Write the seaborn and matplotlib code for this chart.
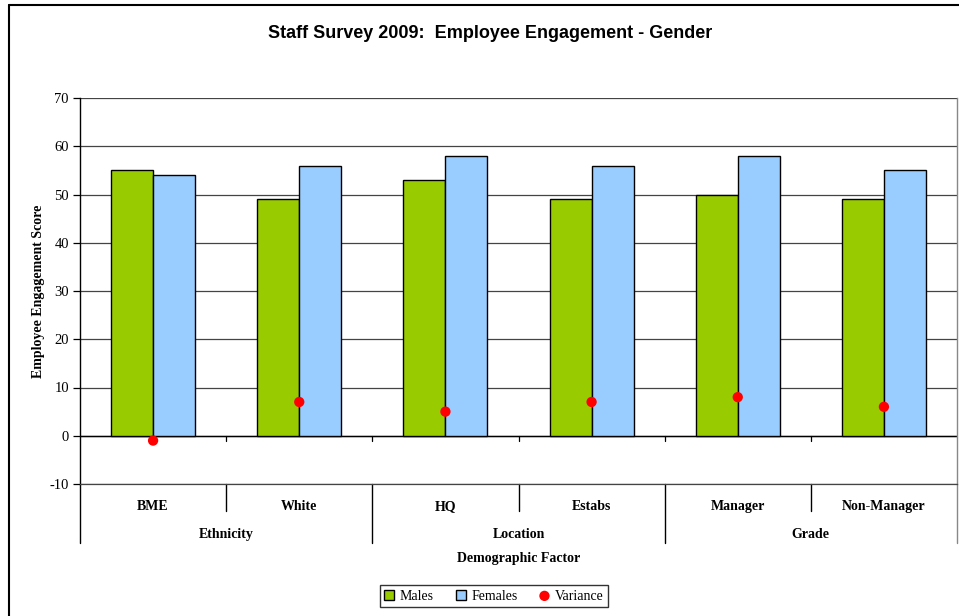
import matplotlib
matplotlib.use("Agg")
import matplotlib.pyplot as plt
from matplotlib.lines import Line2D
import seaborn as sns
import pandas as pd

# Survey results by demographic factor
categories = ["BME", "White", "HQ", "Estabs", "Manager", "Non-Manager"]
groups = ["Ethnicity", "Location", "Grade"]
males = [55, 49, 53, 49, 50, 49]
females = [54, 56, 58, 56, 58, 55]
variance = [-1, 7, 5, 7, 8, 6]

long_df = pd.DataFrame({
    "Category": categories * 2,
    "Score": males + females,
    "Gender": ["Males"] * len(categories) + ["Females"] * len(categories),
})
var_df = pd.DataFrame({"Category": categories, "Variance": variance})

sns.set_theme(style="white")
plt.rcParams.update({
    "text.color": "black",
    "axes.labelcolor": "black",
    "xtick.color": "black",
    "ytick.color": "black",
})
serif = ["Liberation Serif", "DejaVu Serif"]
sans = ["Liberation Sans", "DejaVu Sans"]

W, H = 959, 616
fig = plt.figure(figsize=(W / 100, H / 100), dpi=100)
ax = fig.add_axes([80 / W, (H - 484) / H, (957 - 80) / W, (484 - 98) / H])

sns.barplot(data=long_df, x="Category", y="Score", hue="Gender",
            order=categories, hue_order=["Males", "Females"],
            palette={"Males": "#99CC00", "Females": "#99CCFF"},
            width=0.575, gap=0, edgecolor="black", linewidth=1.0,
            saturation=1, ax=ax, zorder=3)
sns.scatterplot(data=var_df, x="Category", y="Variance", color="#FF0000",
                s=55, edgecolor="none", label="Variance", ax=ax, zorder=4)

ax.set_xlim(-0.5, len(categories) - 0.5)
ax.set_ylim(-10, 70)
ax.set_yticks(range(-10, 71, 10))
ax.set_yticklabels([str(v) for v in range(-10, 71, 10)],
                   fontfamily=serif, fontsize=10.5)
ax.yaxis.grid(True, color="#444444", linewidth=0.9, zorder=0)
ax.set_axisbelow(True)
ax.tick_params(axis="y", left=True, length=5, width=0.9, color="black", pad=3)
ax.set_xticks([])
ax.set_xlabel("")
ax.set_ylabel("Employee Engagement Score", fontfamily=serif, fontsize=10,
              fontweight="bold", labelpad=3)

ax.spines["top"].set_visible(False)
ax.spines["bottom"].set_color("#444444")
ax.spines["bottom"].set_linewidth(0.9)
ax.spines["left"].set_color("black")
ax.spines["left"].set_linewidth(1.0)
ax.spines["right"].set_color("#888888")
ax.spines["right"].set_linewidth(1.0)

# Category axis crossing at zero, with boundary tick marks
ax.axhline(0, color="black", linewidth=1.0, zorder=2)
for b in [i + 0.5 for i in range(len(categories) - 1)]:
    ax.plot([b, b], [0, -1.1], color="black", linewidth=0.9, zorder=2)

# Two-level category labels below the plot area
xt = ax.get_xaxis_transform()
y_inner, y_outer = -0.07, -0.153
for i, c in enumerate(categories):
    ax.text(i, -0.068, c, transform=xt, ha="center", va="baseline",
            fontfamily=serif, fontsize=10, fontweight="bold")
for g, name in enumerate(groups):
    ax.text(2 * g + 0.5, -0.141, name, transform=xt, ha="center",
            va="baseline", fontfamily=serif, fontsize=10, fontweight="bold")
for k in range(len(categories) + 1):
    b = k - 0.5
    yb = y_outer if k % 2 == 0 else y_inner
    col = "#888888" if k == len(categories) else "black"
    ax.plot([b, b], [0, yb], transform=xt, color=col, linewidth=1.0,
            clip_on=False)
ax.text(0.5, -0.202, "Demographic Factor", transform=ax.transAxes,
        ha="center", va="baseline", fontfamily=serif, fontsize=10,
        fontweight="bold")

fig.text(490 / W, 1 - 33 / H,
         "Staff Survey 2009:  Employee Engagement - Gender",
         ha="center", va="center", fontfamily=sans, fontsize=13,
         fontweight="bold")

# Legend below the chart
handles, labels = ax.get_legend_handles_labels()
order = [labels.index(n) for n in ["Males", "Females", "Variance"]]
leg = ax.legend([handles[i] for i in order], [labels[i] for i in order],
                loc="center", bbox_to_anchor=(494 / W, 1 - 596 / H),
                bbox_transform=fig.transFigure, ncol=3, frameon=True,
                fancybox=False, edgecolor="black", handlelength=0.7,
                handleheight=0.7, handletextpad=0.4, columnspacing=1.6,
                borderpad=0.3, prop={"family": serif, "size": 10})
leg.get_frame().set_linewidth(1.0)

# Outer chart border
fig.add_artist(Line2D([9 / W, 1], [1 - 5 / H, 1 - 5 / H],
                      transform=fig.transFigure, color="black", lw=1.5))
fig.add_artist(Line2D([9 / W, 9 / W], [0, 1 - 5 / H],
                      transform=fig.transFigure, color="black", lw=1.5))

fig.savefig("out.png", dpi=100)
